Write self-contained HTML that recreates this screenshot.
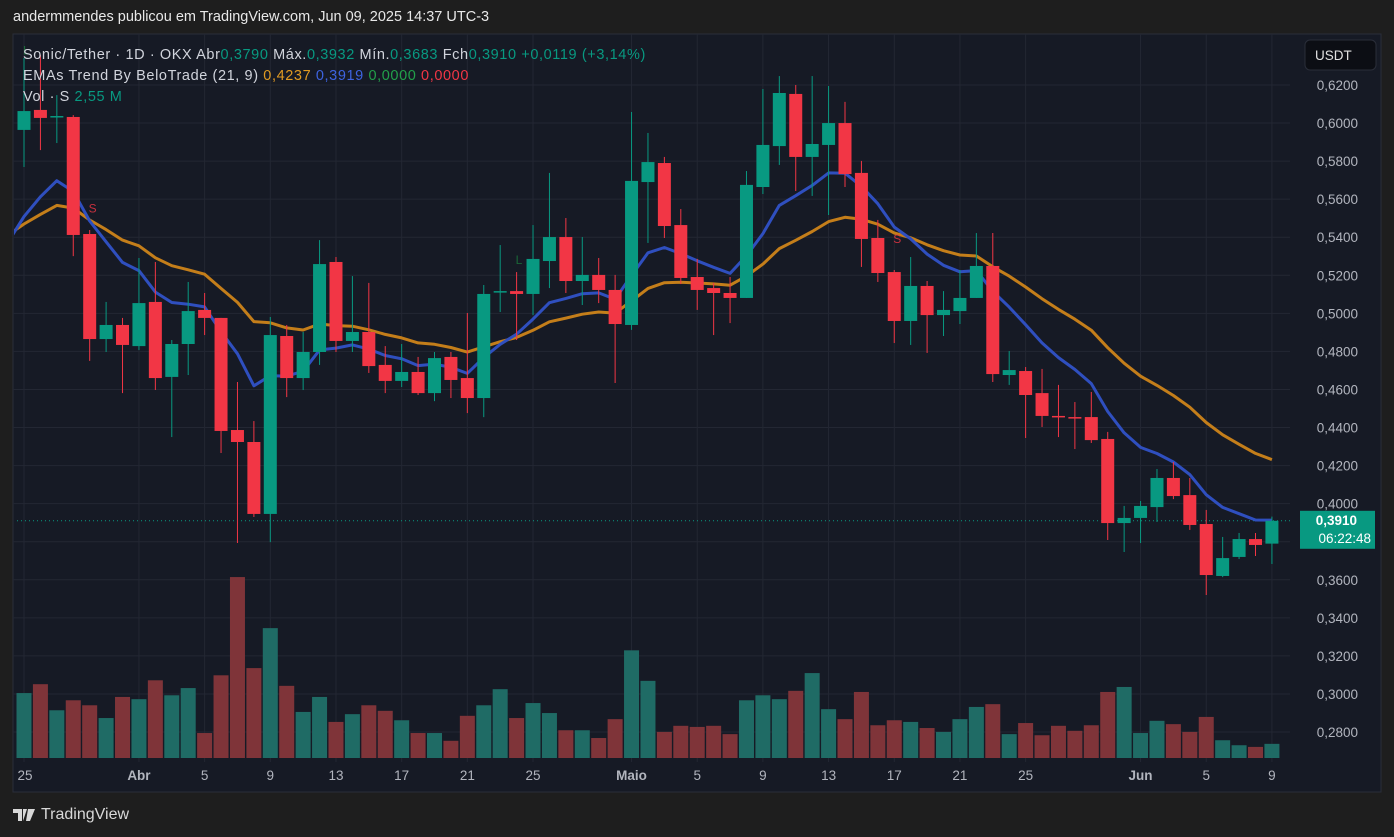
<!DOCTYPE html>
<html><head><meta charset="utf-8">
<style>
body{margin:0;background:#1e1e1e;width:1394px;height:837px;overflow:hidden;font-family:"Liberation Sans",sans-serif}
#hdr{position:absolute;left:13px;top:9px;color:#e8e8e8;font-size:14.5px}
#logo{position:absolute;left:13px;top:806px;color:#d8d8d8;font-size:16px;display:flex;align-items:center;gap:6px}
svg{position:absolute;left:0;top:0}
</style></head><body>
<div id="hdr">andermmendes publicou em TradingView.com, Jun 09, 2025 14:37 UTC-3</div>
<div id="logo"><svg width="22" height="14" style="position:static" viewBox="0 0 22 14"><path d="M0 1h9v12H5V5H0z M10 1h4l-4 12z" fill="#d8d8d8"/><path d="M15 1h7l-5 12h-4z" fill="#d8d8d8"/></svg><span>TradingView</span></div>
<svg id="chart" width="1394" height="837"></svg>
<script>
const opens=[0.5964,0.6069,0.6037,0.6032,0.5417,0.4865,0.4939,0.4828,0.5060,0.4666,0.4839,0.5018,0.4976,0.4387,0.4324,0.3946,0.4881,0.4660,0.4797,0.5270,0.4855,0.4902,0.4729,0.4645,0.4692,0.4581,0.4771,0.4660,0.4555,0.5117,0.5117,0.5102,0.5275,0.5401,0.5170,0.5202,0.5123,0.4939,0.5690,0.5790,0.5464,0.5191,0.5133,0.5107,0.5081,0.5664,0.5879,0.6153,0.5822,0.5885,0.6000,0.5738,0.5396,0.5217,0.4960,0.5144,0.4991,0.5012,0.5081,0.5249,0.4676,0.4697,0.4581,0.4461,0.4455,0.4455,0.4340,0.3898,0.3925,0.3982,0.4135,0.4045,0.3893,0.3620,0.3720,0.3814,0.3790];
const highs=[0.6342,0.6358,0.6147,0.6042,0.5438,0.5060,0.4976,0.5291,0.5270,0.4860,0.5165,0.5107,0.4976,0.4639,0.4434,0.4981,0.4939,0.4902,0.5385,0.5296,0.5196,0.5160,0.4828,0.4839,0.4771,0.4797,0.4797,0.5002,0.5149,0.5359,0.5217,0.5464,0.5738,0.5501,0.5401,0.5291,0.5202,0.6058,0.5948,0.5822,0.5548,0.5286,0.5160,0.5191,0.5748,0.6179,0.6247,0.6200,0.6247,0.6195,0.6111,0.5801,0.5491,0.5228,0.5296,0.5170,0.5117,0.5228,0.5422,0.5422,0.4802,0.4718,0.4708,0.4624,0.4534,0.4587,0.4377,0.3988,0.4014,0.4182,0.4219,0.4135,0.3967,0.3825,0.3846,0.3846,0.3932];
const lows=[0.5769,0.5858,0.5895,0.5301,0.4750,0.4797,0.4581,0.4807,0.4597,0.4350,0.4676,0.4886,0.4266,0.3793,0.3930,0.3798,0.4560,0.4597,0.4729,0.4797,0.4797,0.4687,0.4581,0.4613,0.4571,0.4539,0.4555,0.4476,0.4455,0.5007,0.4860,0.4991,0.5133,0.5107,0.5044,0.5054,0.4634,0.4913,0.5370,0.5396,0.5154,0.5018,0.4886,0.4949,0.5081,0.5627,0.5780,0.5643,0.5617,0.5517,0.5664,0.5244,0.5165,0.4844,0.4834,0.4792,0.4881,0.4944,0.5081,0.4639,0.4624,0.4345,0.4403,0.4350,0.4287,0.4319,0.3809,0.3746,0.3793,0.3904,0.4024,0.3862,0.3520,0.3614,0.3709,0.3725,0.3683];
const closes=[0.6063,0.6027,0.6037,0.5412,0.4865,0.4939,0.4834,0.5054,0.4660,0.4839,0.5012,0.4976,0.4382,0.4324,0.3946,0.4886,0.4660,0.4797,0.5259,0.4855,0.4902,0.4723,0.4645,0.4692,0.4581,0.4765,0.4650,0.4555,0.5102,0.5117,0.5102,0.5286,0.5401,0.5170,0.5202,0.5123,0.4944,0.5696,0.5795,0.5459,0.5186,0.5123,0.5107,0.5081,0.5675,0.5885,0.6158,0.5822,0.5890,0.6000,0.5732,0.5391,0.5212,0.4960,0.5144,0.4991,0.5018,0.5081,0.5249,0.4681,0.4702,0.4571,0.4461,0.4460,0.4454,0.4334,0.3898,0.3925,0.3988,0.4135,0.4040,0.3888,0.3625,0.3714,0.3814,0.3783,0.3910];
const volumes=[11.7,13.3,8.6,10.4,9.5,7.2,11.0,10.6,14.0,11.3,12.6,4.5,14.9,32.6,16.2,23.4,13.0,8.3,11.0,6.5,7.9,9.5,8.5,6.8,4.5,4.5,3.1,7.6,9.5,12.4,7.2,9.9,8.1,5.0,5.0,3.6,7.0,19.4,13.9,4.7,5.8,5.6,5.8,4.3,10.4,11.3,10.6,12.1,15.3,8.8,7.0,11.9,5.9,6.8,6.5,5.4,4.7,7.0,9.2,9.7,4.3,6.3,4.1,5.8,4.9,5.9,11.9,12.8,4.5,6.7,6.1,4.7,7.4,3.2,2.3,2.0,2.55];
const priceTicks=[0.62,0.60,0.58,0.56,0.54,0.52,0.50,0.48,0.46,0.44,0.42,0.40,0.36,0.34,0.32,0.30,0.28];
const dateTicks=[[0,"25"],[7,"Abr"],[11,"5"],[15,"9"],[19,"13"],[23,"17"],[27,"21"],[31,"25"],[37,"Maio"],[41,"5"],[45,"9"],[49,"13"],[53,"17"],[57,"21"],[61,"25"],[68,"Jun"],[72,"5"],[76,"9"]];
const ema9Seed=0.537, ema21Seed=0.541;

const NS="http://www.w3.org/2000/svg";
const svg=document.getElementById('chart');
const PL=13,PR=1381,PT=34,PB=792,AX=1290;
const X=i=>24+i*16.42;
const Y=p=>85+(0.62-p)/0.02*38.06;
const VB=758, V=v=>VB-v*5.55;
const G='#089981',R='#f23645',GV='#1f6b65',RV='#7f3439';
function el(t,a,parent){const e=document.createElementNS(NS,t);for(const k in a)e.setAttribute(k,a[k]);(parent||svg).appendChild(e);return e;}
let e;
e=el('rect',{x:PL,y:PT,width:PR-PL,height:PB-PT,fill:'#161a25',stroke:'#2a2e39'});


const clip=el('clipPath',{id:'cp'});el('rect',{x:PL+1,y:PT+1,width:AX-PL-1,height:PB-PT-2},clip);
const grid=el('g',{stroke:'#232733','stroke-width':1});


priceTicks.forEach(p=>{el('line',{x1:PL,x2:AX,y1:Y(p),y2:Y(p)},grid);});
el('line',{x1:PL,x2:AX,y1:Y(0.38),y2:Y(0.38)},grid);
dateTicks.forEach(d=>{el('line',{x1:X(d[0]),x2:X(d[0]),y1:PT,y2:762},grid);});
const plot=el('g',{'clip-path':'url(#cp)'});
opens.forEach((o,i)=>{
  const up=closes[i]>=o;
  const b=el('rect',{x:X(i)-7.5,y:V(volumes[i]),width:15,height:VB-V(volumes[i]),fill:up?GV:RV},plot);
  
  
});
e=el('line',{x1:PL,x2:AX,y1:Y(closes[76]),y2:Y(closes[76]),stroke:G,'stroke-dasharray':'1 3'},plot);


function ema(seed,n){const a=2/(n+1);let v=seed;const out=[seed];closes.forEach(c=>{v=v+a*(c-v);out.push(v);});return out;}
[[ema(ema21Seed,21),'#c47e1a','ema-21-line'],[ema(ema9Seed,9),'#2f4fbf','ema-9-line']].forEach(([arr,c,n])=>{
  const pts=arr.map((v,k)=>X(k-1).toFixed(1)+','+Y(v).toFixed(1)).join(' ');
  const l=el('polyline',{points:pts,fill:'none',stroke:c,'stroke-width':3,'stroke-linejoin':'round'},plot);
  
  
});
opens.forEach((o,i)=>{
  const c=closes[i],up=c>=o,col=up?G:R,x=X(i);
  const g=el('g',{},plot);
  
  
  el('line',{x1:x,x2:x,y1:Y(highs[i]),y2:Y(lows[i]),stroke:col,'stroke-width':1},g);
  const t=Math.min(Y(o),Y(c)),h=Math.max(1.5,Math.abs(Y(o)-Y(c)));
  el('rect',{x:x-6.5,y:t,width:13,height:h,fill:col},g);
});
[[4,'S',R,0.553],[53,'S',R,0.537],[30,'L','#1b7a3c',0.526],[0,'L','#1b7a3c',0.636]].forEach(m=>{
  const t=el('text',{x:X(m[0])-1,y:Y(m[3]),fill:m[2],'font-size':12,'font-family':'Liberation Sans, sans-serif',opacity:0.8},plot);t.textContent=m[1];
  
  
});
priceTicks.forEach(p=>{const t=el('text',{x:1358,y:Y(p)+5,fill:'#b2b5be','font-size':13.5,'text-anchor':'end'});t.textContent=p.toFixed(4).replace('.',',');
  
  });
e=el('rect',{x:1300,y:Y(closes[76])-10,width:75,height:38,fill:G});


let t=el('text',{x:1357,y:Y(closes[76])+4,fill:'#fff','font-size':13.5,'font-weight':'bold','text-anchor':'end'});t.textContent=closes[76].toFixed(4).replace('.',',');
t=el('text',{x:1371,y:Y(closes[76])+22,fill:'#fff','font-size':13.5,'text-anchor':'end'});t.textContent='06:22:48';
e=el('rect',{x:1305,y:40,width:71,height:30,rx:5,fill:'#0c0e14',stroke:'#2a2e39'});


t=el('text',{x:1315,y:60,fill:'#e0e0e0','font-size':13.5});t.textContent='USDT';
dateTicks.forEach(d=>{const b=(d[1]==='Abr'||d[1]==='Maio'||d[1]==='Jun');const tt=el('text',{x:X(d[0])+(d[0]===0?1:0),y:780,fill:'#b2b5be','font-size':13.5,'text-anchor':'middle','font-weight':b?'bold':'normal'});tt.textContent=d[1];
  
  });
function line(y,parts,name){const tx=el('text',{x:23,y:y,'font-size':14.5,'letter-spacing':0.6});parts.forEach(([s,c])=>{const ts=el('tspan',{fill:c},tx);ts.textContent=s;});}
const L='#d1d4dc';
line(59,[['Sonic/Tether · 1D · OKX  Abr',L],['0,3790',G],['  Máx.',L],['0,3932',G],['  Mín.',L],['0,3683',G],['  Fch',L],['0,3910',G],['  +0,0119 (+3,14%)',G]],'ohlc-legend');
line(80,[['EMAs Trend By BeloTrade (21, 9)  ',L],['0,4237',"#e09a22"],['  0,3919','#3d63e0'],['  0,0000','#22a04a'],['  0,0000','#f23645']],'ema-legend');
line(101,[['Vol · S  ',L],['2,55 M',G]],'volume-legend');
</script>
</body></html>
